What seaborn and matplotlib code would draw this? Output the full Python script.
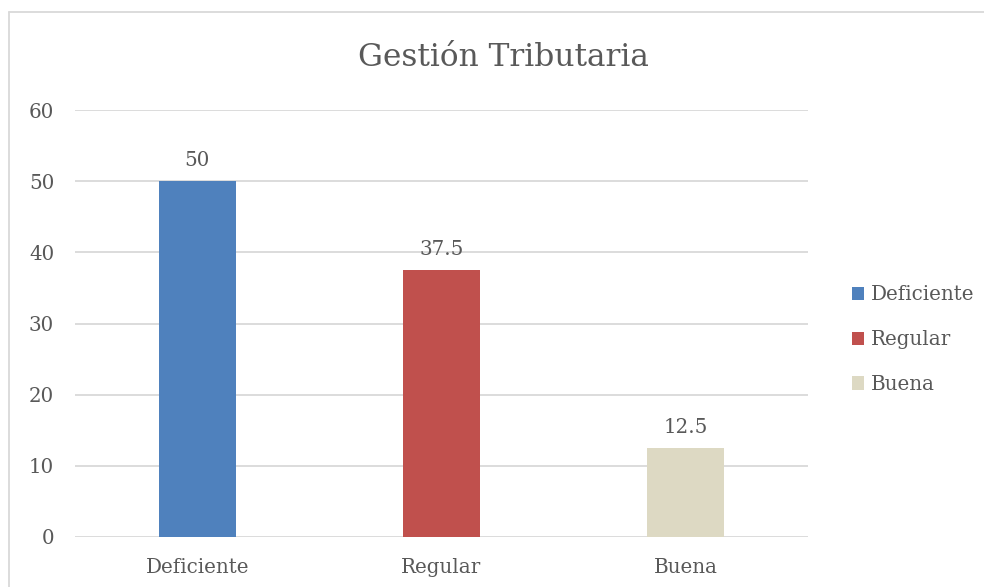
import pandas as pd
import seaborn as sns
import matplotlib.pyplot as plt
from matplotlib.lines import Line2D

# data
categorias = ["Deficiente", "Regular", "Buena"]
porcentajes = [50, 37.5, 12.5]
colores = ["#4F81BD", "#C0504D", "#DDD9C3"]
yticks = [0, 10, 20, 30, 40, 50, 60]

df = pd.DataFrame({"categoria": categorias, "valor": porcentajes})

sns.set_theme(style="white")
plt.rcParams["font.family"] = ["DejaVu Serif", "DejaVu Sans"]
texto = "#595959"
fs = 14.3

fig = plt.figure(figsize=(9.84, 5.87), dpi=100)
ax = fig.add_axes([75 / 984, 50 / 587, 733 / 984, 427 / 587])

sns.barplot(data=df, x="categoria", y="valor", hue="categoria",
            palette=colores, saturation=1, width=0.315, dodge=False,
            linewidth=0, edgecolor="none", ax=ax, legend=True)

ax.set_ylim(0, 60)
ax.set_yticks(yticks)
ax.yaxis.grid(True, color="#D9D9D9", linewidth=1.3)
ax.set_axisbelow(True)
for s in ax.spines.values():
    s.set_visible(False)
ax.set_xlabel("")
ax.set_ylabel("")
ax.tick_params(axis="y", length=0, pad=15, labelsize=fs, labelcolor=texto)
ax.tick_params(axis="x", length=0, pad=15, labelsize=fs, labelcolor=texto)

for cont in ax.containers:
    ax.bar_label(cont, labels=[f"{v:g}" for v in cont.datavalues],
                 padding=8, fontsize=fs, color=texto)

ax.legend(loc="center left", bbox_to_anchor=(1.035, 0.462), frameon=False,
          fontsize=fs, labelcolor=texto, handlelength=0.65, handleheight=0.65,
          handletextpad=0.3, labelspacing=1.3)

fig.text(503 / 984, 530 / 587, "Gestión Tributaria", ha="center", va="center",
         fontsize=22.5, color=texto)

# chart frame (left and top edges visible in the reference)
fig.add_artist(Line2D([9 / 984, 9 / 984], [0, 575 / 587], color="#D9D9D9", lw=1.3))
fig.add_artist(Line2D([9 / 984, 1], [575 / 587, 575 / 587], color="#D9D9D9", lw=1.3))

fig.savefig("out.png", dpi=100)
